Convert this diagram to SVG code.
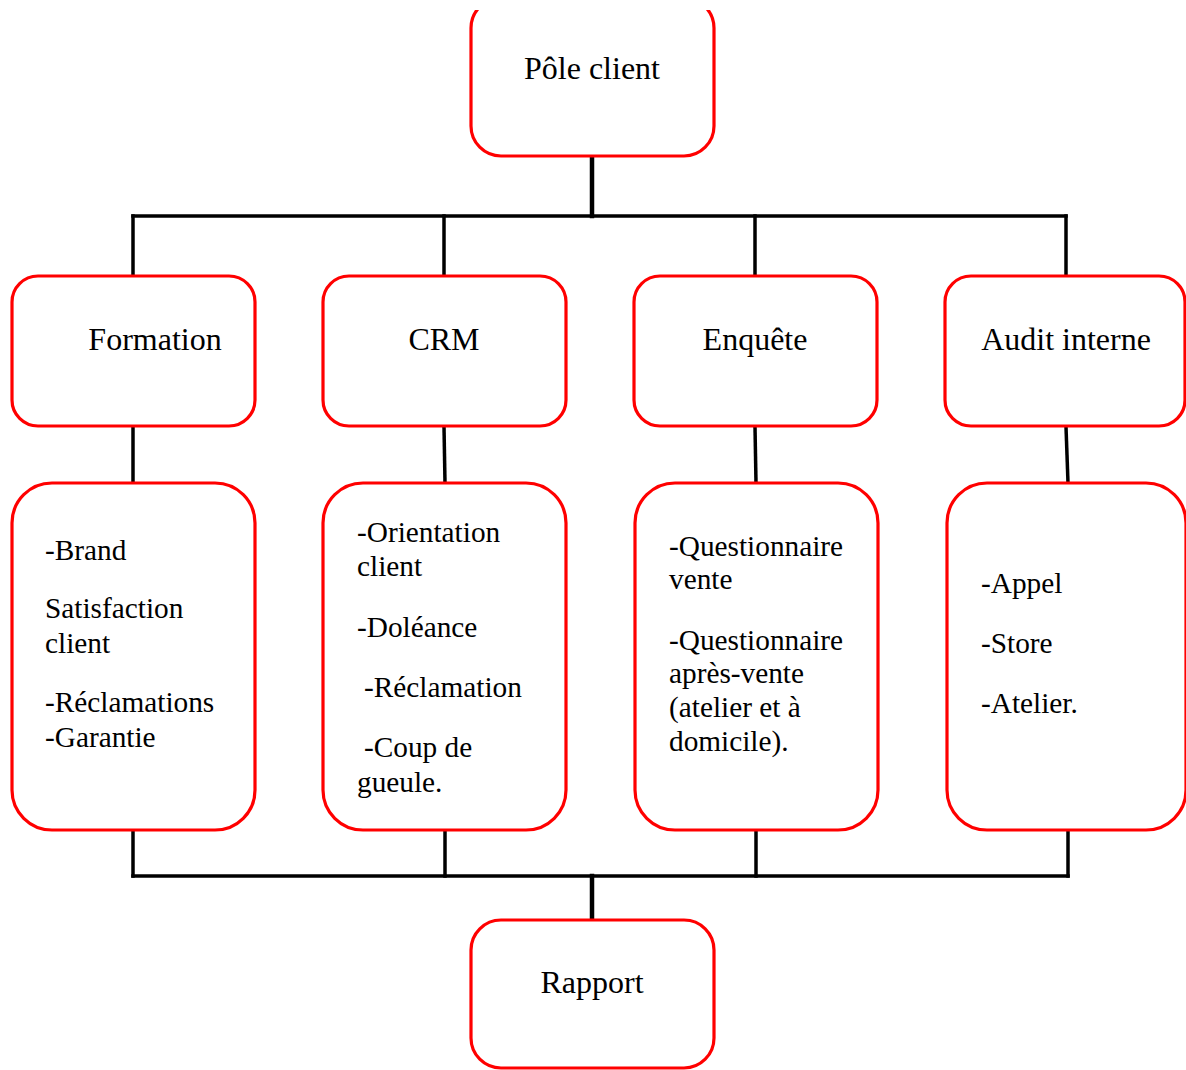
<svg xmlns="http://www.w3.org/2000/svg" width="1186" height="1070" viewBox="0 0 1186 1070">
  <defs>
    <style>
      .box { fill: #ffffff; stroke: #ff0000; stroke-width: 3.2; }
      .wire { fill: none; stroke: #000000; stroke-width: 3.5; stroke-linecap: square; }
      .trunk { stroke-width: 4.5; }
      .title { font-family: "Liberation Serif", "Times New Roman", serif; font-size: 32px; fill: #000000; }
      .item { font-family: "Liberation Serif", "Times New Roman", serif; font-size: 29.3px; fill: #000000; }
    </style>
    <clipPath id="page">
      <rect x="0" y="10" width="1186" height="1060"/>
    </clipPath>
  </defs>
  <rect x="0" y="0" width="1186" height="1070" fill="#ffffff"/>

  <!-- connectors -->
  <g id="connectors">
    <line class="wire trunk" x1="592" y1="157" x2="592" y2="216"/>
    <line class="wire" x1="133" y1="216" x2="1066" y2="216"/>
    <line class="wire" x1="133" y1="216" x2="133" y2="276"/>
    <line class="wire" x1="444" y1="216" x2="444" y2="276"/>
    <line class="wire" x1="755" y1="216" x2="755" y2="276"/>
    <line class="wire" x1="1066" y1="216" x2="1066" y2="276"/>

    <line class="wire" x1="133" y1="427" x2="133" y2="483"/>
    <line class="wire" x1="444" y1="427" x2="445" y2="483"/>
    <line class="wire" x1="755" y1="427" x2="756" y2="483"/>
    <line class="wire" x1="1066" y1="427" x2="1068" y2="483"/>

    <line class="wire" x1="133" y1="830" x2="133" y2="876"/>
    <line class="wire" x1="445" y1="830" x2="445" y2="876"/>
    <line class="wire" x1="756" y1="830" x2="756" y2="876"/>
    <line class="wire" x1="1068" y1="830" x2="1068" y2="876"/>
    <line class="wire" x1="133" y1="876" x2="1068" y2="876"/>
    <line class="wire trunk" x1="592" y1="876" x2="592" y2="920"/>
  </g>

  <!-- top node -->
  <g id="pole-client" clip-path="url(#page)">
    <rect class="box" x="471" y="-2" width="243" height="158" rx="30" ry="30"/>
    <text class="title" x="592" y="79" text-anchor="middle">Pôle client</text>
  </g>

  <!-- first row -->
  <g id="formation">
    <rect class="box" x="12" y="276" width="243" height="150" rx="26" ry="26"/>
    <text class="title" x="155" y="350" text-anchor="middle">Formation</text>
  </g>
  <g id="crm">
    <rect class="box" x="323" y="276" width="243" height="150" rx="26" ry="26"/>
    <text class="title" x="444" y="350" text-anchor="middle">CRM</text>
  </g>
  <g id="enquete">
    <rect class="box" x="634" y="276" width="243" height="150" rx="26" ry="26"/>
    <text class="title" x="755" y="350" text-anchor="middle">Enquête</text>
  </g>
  <g id="audit-interne">
    <rect class="box" x="945" y="276" width="240" height="150" rx="26" ry="26"/>
    <text class="title" x="1066" y="350" text-anchor="middle">Audit interne</text>
  </g>

  <!-- second row -->
  <g id="formation-details">
    <rect class="box" x="12" y="483" width="243" height="347" rx="40" ry="40"/>
    <text class="item" x="45" y="560">-Brand</text>
    <text class="item" x="45" y="618">Satisfaction</text>
    <text class="item" x="45" y="653">client</text>
    <text class="item" x="45" y="712">-Réclamations</text>
    <text class="item" x="45" y="747">-Garantie</text>
  </g>
  <g id="crm-details">
    <rect class="box" x="323" y="483" width="243" height="347" rx="40" ry="40"/>
    <text class="item" x="357" y="542">-Orientation</text>
    <text class="item" x="357" y="576">client</text>
    <text class="item" x="357" y="637">-Doléance</text>
    <text class="item" x="364" y="697">-Réclamation</text>
    <text class="item" x="364" y="757">-Coup de</text>
    <text class="item" x="357" y="792">gueule.</text>
  </g>
  <g id="enquete-details">
    <rect class="box" x="635" y="483" width="243" height="347" rx="40" ry="40"/>
    <text class="item" x="669" y="556">-Questionnaire</text>
    <text class="item" x="669" y="589">vente</text>
    <text class="item" x="669" y="650">-Questionnaire</text>
    <text class="item" x="669" y="683">après-vente</text>
    <text class="item" x="669" y="717">(atelier et à</text>
    <text class="item" x="669" y="751">domicile).</text>
  </g>
  <g id="audit-details">
    <rect class="box" x="947" y="483" width="239" height="347" rx="40" ry="40"/>
    <text class="item" x="981" y="593">-Appel</text>
    <text class="item" x="981" y="653">-Store</text>
    <text class="item" x="981" y="713">-Atelier.</text>
  </g>

  <!-- bottom node -->
  <g id="rapport">
    <rect class="box" x="471" y="920" width="243" height="148" rx="30" ry="30"/>
    <text class="title" x="592" y="993" text-anchor="middle">Rapport</text>
  </g>
</svg>
